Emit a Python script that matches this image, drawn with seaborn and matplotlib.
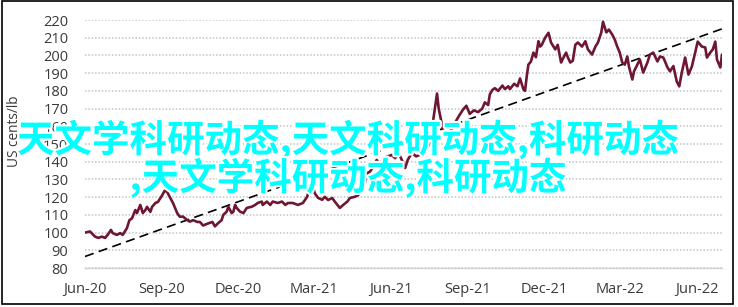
import numpy as np
import pandas as pd
import matplotlib
matplotlib.use("Agg")
import matplotlib.pyplot as plt
import seaborn as sns
from matplotlib import patheffects as pe
from matplotlib.patches import Rectangle

# ---------------- data ----------------
start_date = "2020-06-01"
# days since start_date
price_days = [0, 6, 12, 16, 20, 24, 27, 31, 33, 38, 42, 45, 50, 53, 56, 60, 62, 66, 69, 72,
              74, 78, 80, 84, 87, 92, 95, 98, 101, 105, 110, 113, 117, 122, 125, 129, 134, 137,
              141, 146, 152, 155, 159, 163, 165, 169, 171, 175, 177, 179, 181, 185, 189, 193,
              199, 203, 206, 211, 212, 217, 221, 224, 230, 235, 239, 242, 248, 254, 260, 265,
              268, 272, 274, 278, 283, 286, 290, 295, 298, 304, 308, 313, 316, 322, 326, 331,
              334, 337, 340, 344, 348, 352, 356, 360, 366, 370, 374, 378, 382, 385, 390, 395,
              400, 405, 408, 412, 415, 418, 420, 422, 425, 427, 431, 434, 439, 444, 447, 451,
              455, 459, 464, 469, 474, 477, 481, 483, 486, 489, 493, 498, 501, 505, 507, 512,
              516, 519, 523, 525, 527, 529, 532, 535, 538, 541, 543, 545, 549, 553, 556, 561,
              564, 568, 570, 574, 576, 579, 582, 585, 588, 593, 597, 600, 605, 609, 612, 616,
              618, 622, 625, 629, 632, 635, 638, 641, 644, 647, 649, 653, 655, 659, 662, 666,
              671, 674, 678, 683, 686, 690, 695, 698, 702, 706, 709, 712, 716, 720, 724, 728,
              731, 736, 740, 742, 746, 749, 752, 754, 758, 760]
price_values = [100.0, 100.6, 97.7, 97.0, 97.7, 97.0, 98.7, 101.5, 99.7, 98.7, 99.7, 98.7, 102.5,
                107.0, 108.0, 112.7, 111.0, 115.6, 111.0, 112.7, 114.5, 111.7, 114.5, 116.7, 117.3,
                121.0, 123.6, 123.0, 120.2, 116.7, 111.0, 109.0, 109.0, 107.0, 106.2, 107.0, 106.0,
                106.0, 104.0, 105.0, 106.0, 103.5, 105.4, 107.0, 110.0, 111.8, 114.6, 111.0, 111.8,
                115.6, 113.9, 111.8, 111.0, 113.9, 114.6, 115.6, 116.7, 117.5, 115.6, 117.5, 115.6,
                117.5, 116.7, 117.5, 115.6, 116.7, 116.7, 115.6, 116.7, 120.2, 125.0, 126.0, 122.3,
                119.6, 118.5, 120.2, 118.4, 119.5, 117.5, 113.9, 115.6, 117.5, 119.5, 120.2, 121.2,
                126.0, 128.0, 133.6, 134.4, 137.2, 141.0, 138.2, 142.0, 142.8, 143.8, 142.0, 145.0,
                141.0, 136.5, 141.0, 145.0, 143.0, 144.0, 146.0, 148.0, 150.7, 162.0, 172.0, 178.5,
                170.0, 163.0, 158.0, 154.0, 155.0, 160.0, 164.0, 166.5, 169.4, 171.6, 167.0, 169.0,
                168.0, 170.0, 173.5, 172.0, 178.0, 180.5, 181.5, 180.0, 183.0, 181.0, 182.6, 181.0,
                184.0, 182.6, 187.0, 181.0, 180.0, 188.0, 194.8, 196.5, 201.6, 199.0, 208.0, 205.0,
                206.0, 210.0, 212.8, 207.3, 203.4, 206.0, 196.0, 198.0, 201.6, 199.0, 196.0, 197.0,
                206.0, 207.3, 205.0, 208.0, 203.4, 200.5, 205.0, 207.3, 213.0, 219.0, 213.0, 214.6,
                211.8, 209.0, 205.0, 201.6, 196.0, 194.8, 199.4, 193.7, 186.4, 191.0, 194.8, 197.7,
                190.3, 196.0, 200.5, 201.6, 196.6, 199.4, 198.8, 193.2, 191.0, 194.0, 185.3, 182.5,
                190.3, 198.8, 189.2, 193.7, 201.6, 207.8, 205.0, 204.5, 198.8, 201.6, 203.4, 207.8,
                197.7, 193.2, 200.5]
trend_days = [0, 760]
trend_values = [86.5, 215.0]

y_ticks = [80, 90, 100, 110, 120, 130, 140, 150, 160, 170, 180, 190, 200, 210, 220]
x_tick_dates = ["2020-06-01", "2020-09-01", "2020-12-01", "2021-03-01", "2021-06-01",
                "2021-09-01", "2021-12-01", "2022-03-01", "2022-06-01"]
x_tick_labels = ["Jun-20", "Sep-20", "Dec-20", "Mar-21", "Jun-21",
                 "Sep-21", "Dec-21", "Mar-22", "Jun-22"]
y_label = "US cents/lb"
overlay_lines = ["天文学科研动态,天文科研动态,科研动态", ",天文学科研动态,科研动态"]

# ---------------- style ----------------
sns.set_style("white")
plt.rcParams["font.family"] = ["Open Sans", "DejaVu Sans"]

W, H = 738, 307
fig = plt.figure(figsize=(W / 100, H / 100), dpi=100)
fig.patch.set_facecolor("white")
ax = fig.add_axes([85 / W, 1 - 268 / H, 637 / W, 248 / H])

t0 = pd.Timestamp(start_date)
df = pd.DataFrame({"date": t0 + pd.to_timedelta(price_days, unit="D"), "value": price_values})
tdf = pd.DataFrame({"date": t0 + pd.to_timedelta(trend_days, unit="D"), "value": trend_values})

sns.lineplot(data=tdf, x="date", y="value", ax=ax, color="black", linewidth=1.2,
             linestyle=(0, (5.5, 3.2)), zorder=2)
sns.lineplot(data=df, x="date", y="value", ax=ax, color="#6e1632", linewidth=1.9, zorder=3)

ax.set_xlim(t0, t0 + pd.Timedelta(days=trend_days[-1]))
ax.set_ylim(y_ticks[0], y_ticks[-1])
ax.set_yticks(y_ticks)
ax.set_xticks(pd.to_datetime(x_tick_dates))
ax.set_xticklabels(x_tick_labels)
ax.set_xlabel("")
ax.set_ylabel("")

ax.yaxis.grid(True, color="#c4c4c4", linestyle=(0, (1, 1.2)), linewidth=1.1)
ax.xaxis.grid(False)
for s in ["left", "right", "top"]:
    ax.spines[s].set_visible(False)
ax.spines["bottom"].set_color("#d2d2d2")
ax.spines["bottom"].set_linewidth(1.0)
ax.tick_params(axis="both", length=0, labelsize=10.5, labelcolor="#3a3a3a")
ax.tick_params(axis="y", pad=12)
ax.tick_params(axis="x", pad=10)
ax.set_facecolor("white")

fig.text(15 / W, 1 - 131 / H, y_label, rotation=90, ha="center", va="center",
         fontsize=9.8, color="#3a3a3a")

ys = [140, 178]
for txt, yy in zip(overlay_lines, ys):
    fig.text(348 / W, 1 - yy / H, txt, ha="center", va="center", fontsize=27,
             color="#00ffff", fontweight="bold",
             family=["Noto Sans CJK SC", "DejaVu Sans"],
             path_effects=[pe.withStroke(linewidth=3, foreground="white")], zorder=10)

fig.patches.append(Rectangle((2 / W, 3 / H), 731 / W, 303 / H, transform=fig.transFigure,
                             fill=False, edgecolor="black", linewidth=1.2, zorder=20))

fig.savefig("out.png", dpi=100)
